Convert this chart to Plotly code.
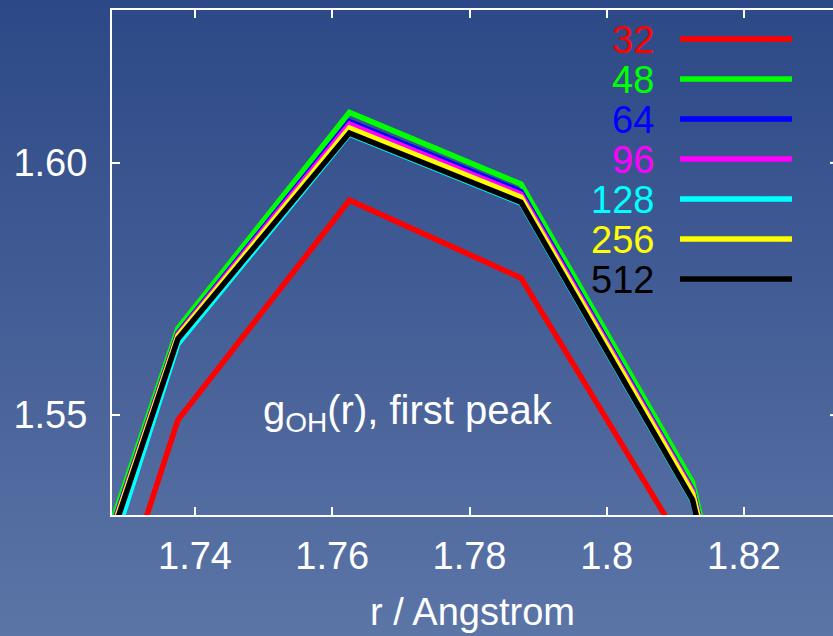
import base64
import plotly.graph_objects as go

# ---- data ----
r = [1.7125, 1.7375, 1.7625, 1.7875, 1.8125, 1.8375]
series_names = ["32", "48", "64", "96", "128", "256", "512"]
series_colors = ["#ff0000", "#00ff00", "#0000ff", "#ff00ff", "#00ffff", "#ffff00", "#000000"]
g32 = [1.4448, 1.5490, 1.5926, 1.5772, 1.5211, 1.385]
g48 = [1.4672, 1.5672, 1.6100, 1.5958, 1.5367, 1.3930]
g64 = [1.4655, 1.5662, 1.6082, 1.5943, 1.5352, 1.392]
g96 = [1.4650, 1.5660, 1.6077, 1.5938, 1.5350, 1.391]
g128 = [1.4582, 1.5641, 1.6057, 1.5920, 1.5330, 1.390]
g256 = [1.4645, 1.5657, 1.6069, 1.5932, 1.5345, 1.391]
g512 = [1.4636, 1.5651, 1.6059, 1.5922, 1.5332, 1.390]
series_values = [g32, g48, g64, g96, g128, g256, g512]

x_tickvals = [1.74, 1.76, 1.78, 1.80, 1.82]
x_ticktext = ["1.74", "1.76", "1.78", "1.8", "1.82"]
y_tickvals = [1.55, 1.60]
y_ticktext = ["1.55", "1.60"]
x_range = [1.7279, 1.83297]
y_range = [1.5302, 1.6303]

W, H = 833, 636
ML, MR, MT, MB = 112, 0, 10, 121
PW, PH = W - ML - MR, H - MT - MB

FONT = "Liberation Sans, Arial, Helvetica, sans-serif"
FS = 38
LW = 5.5

def px_x(p):
    return (p - ML) / PW

def px_y(p):
    return (H - MB - p) / PH

fig = go.Figure()
for name, col, vals in zip(series_names, series_colors, series_values):
    fig.add_trace(go.Scatter(x=r, y=vals, mode="lines", name=name,
                             line=dict(color=col, width=LW), showlegend=False))

# background gradient as an svg image
svg = (f'<svg xmlns="http://www.w3.org/2000/svg" width="{W}" height="{H}" '
       f'viewBox="0 0 {W} {H}" preserveAspectRatio="none">'
       '<defs><linearGradient id="g" x1="0" y1="0" x2="0" y2="1">'
       '<stop offset="0" stop-color="#2c4886"/>'
       '<stop offset="1" stop-color="#5c75a7"/>'
       '</linearGradient></defs>'
       f'<rect x="0" y="0" width="{W}" height="{H}" fill="url(#g)"/></svg>')
uri = "data:image/svg+xml;base64," + base64.b64encode(svg.encode()).decode()
fig.add_layout_image(dict(source=uri, xref="paper", yref="paper",
                          x=-ML / PW, y=(H - MB) / PH, sizex=W / PW, sizey=H / PH,
                          xanchor="left", yanchor="top", sizing="stretch", layer="below"))

# manual legend: coloured label, then line sample
annotations = []
shapes = []
for i, (name, col) in enumerate(zip(series_names, series_colors)):
    yp = 39 + 40 * i
    annotations.append(dict(text=name, xref="paper", yref="paper", x=px_x(656), y=px_y(yp + 1),
                            xanchor="right", yanchor="middle", showarrow=False,
                            font=dict(family=FONT, size=FS, color=col)))
    shapes.append(dict(type="line", xref="paper", yref="paper", x0=px_x(680), x1=px_x(792),
                       y0=px_y(yp), y1=px_y(yp), line=dict(color=col, width=LW)))

# right-edge tick stubs of the (cropped) right axis
for yv in y_tickvals:
    shapes.append(dict(type="line", xref="paper", yref="y", x0=px_x(830), x1=1.0,
                       y0=yv, y1=yv, line=dict(color="white", width=2)))

annotations.append(dict(text="g<sub>OH</sub>(r), first peak", x=1.7711, y=1.5505,
                        xref="x", yref="y", xanchor="center", yanchor="middle", showarrow=False,
                        font=dict(family=FONT, size=40, color="white")))

fig.update_layout(
    width=W, height=H,
    margin=dict(l=ML, r=MR, t=MT, b=MB, pad=0),
    paper_bgcolor="rgba(0,0,0,0)", plot_bgcolor="rgba(0,0,0,0)",
    font=dict(family=FONT, size=FS, color="white"),
    annotations=annotations, shapes=shapes,
    xaxis=dict(range=x_range, tickvals=x_tickvals, ticktext=x_ticktext,
               ticks="inside", ticklen=8, tickwidth=2, tickcolor="white",
               showline=True, linecolor="white", linewidth=2, mirror="ticks",
               showgrid=False, zeroline=False, ticklabelstandoff=6,
               tickfont=dict(family=FONT, size=FS, color="white"),
               title=dict(text="r / Angstrom", font=dict(family=FONT, size=FS, color="white"), standoff=23)),
    yaxis=dict(range=y_range, tickvals=y_tickvals, ticktext=y_ticktext,
               ticks="inside", ticklen=8, tickwidth=2, tickcolor="white",
               showline=True, linecolor="white", linewidth=2, mirror=False,
               showgrid=False, zeroline=False, ticklabelstandoff=15,
               tickfont=dict(family=FONT, size=FS, color="white")),
)

fig.write_html("out.html")
